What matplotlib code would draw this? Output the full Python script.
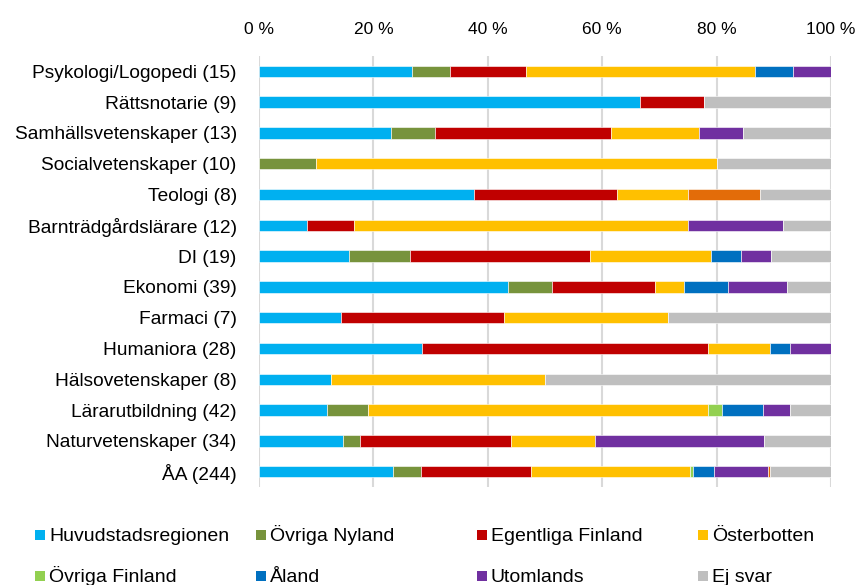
import matplotlib.pyplot as plt
import matplotlib.patches as mpatches
import numpy as np

plt.rcParams['font.family'] = ['Liberation Sans', 'DejaVu Sans']

# kategorier (uppifrån och ned) och antal svar
kategorier = ['Psykologi/Logopedi', 'Rättsnotarie', 'Samhällsvetenskaper',
              'Socialvetenskaper', 'Teologi', 'Barnträdgårdslärare', 'DI',
              'Ekonomi', 'Farmaci', 'Humaniora', 'Hälsovetenskaper',
              'Lärarutbildning', 'Naturvetenskaper', 'ÅA']
antal = [15, 9, 13, 10, 8, 12, 19, 39, 7, 28, 8, 42, 34, 244]

# antal svar per region, samma ordning som kategorier
huvudstad   = [4, 6, 3, 0, 3, 1, 3, 17, 1, 8, 1, 5, 5, 57]
ovr_nyland  = [1, 0, 1, 1, 0, 0, 2, 3, 0, 0, 0, 3, 1, 12]
egentliga   = [2, 1, 4, 0, 2, 1, 6, 7, 2, 14, 0, 0, 9, 47]
osterbotten = [6, 0, 2, 7, 1, 7, 4, 2, 2, 3, 3, 25, 5, 68]
ovr_finland = [0, 0, 0, 0, 0, 0, 0, 0, 0, 0, 0, 1, 0, 1]
aland       = [1, 0, 0, 0, 0, 0, 1, 3, 0, 1, 0, 3, 0, 9]
utomlands   = [1, 0, 1, 0, 0, 2, 1, 4, 0, 2, 0, 2, 10, 23]
ovrigt      = [0, 0, 0, 0, 1, 0, 0, 0, 0, 0, 0, 0, 0, 1]
ej_svar     = [0, 2, 2, 2, 1, 1, 2, 3, 2, 0, 4, 3, 4, 26]

serier = [
    ('Huvudstadsregionen', huvudstad, '#00B0F0'),
    ('Övriga Nyland', ovr_nyland, '#77933C'),
    ('Egentliga Finland', egentliga, '#C00000'),
    ('Österbotten', osterbotten, '#FFC000'),
    ('Övriga Finland', ovr_finland, '#92D050'),
    ('Åland', aland, '#0070C0'),
    ('Utomlands', utomlands, '#7030A0'),
    (None, ovrigt, '#E36C09'),
    ('Ej svar', ej_svar, '#BFBFBF'),
]

etiketter = [f'{k} ({n})' for k, n in zip(kategorier, antal)]
n = np.array(antal, dtype=float)
y = np.arange(len(kategorier))

fig = plt.figure(figsize=(8.65, 5.85), dpi=100)
ax = fig.add_axes([259/865, 1 - 487/585, 572/865, 431/585])

left = np.zeros(len(kategorier))
for namn, vals, farg in serier:
    pct = np.array(vals) / n * 100
    ax.barh(y, pct, left=left, height=0.37, color=farg,
            edgecolor='white', linewidth=0.4, zorder=3)
    left += pct

ax.set_xlim(0, 100)
ax.set_ylim(len(kategorier) - 0.5, -0.5)
ax.set_xticks(np.arange(0, 101, 20))
ax.set_xticklabels([f'{v} %' for v in range(0, 101, 20)])
ax.xaxis.tick_top()
ax.set_yticks(y)
ax.set_yticklabels(etiketter)
ax.tick_params(axis='x', length=0, pad=14, labelsize=12.5)
ax.tick_params(axis='y', length=0, pad=16, labelsize=13.8)
ax.grid(axis='x', color='#D9D9D9', linewidth=1.5, zorder=0)
for s in ax.spines.values():
    s.set_visible(False)

# förklaring nedtill, 4 kolumner
i = 0
for namn, vals, farg in serier:
    if namn is None:
        continue
    kol, rad = i % 4, i // 4
    x0 = 35 + kol * 221
    yc = 535 + rad * 41
    fig.patches.append(mpatches.Rectangle(
        (x0 / 865, 1 - (yc + 5) / 585), 10 / 865, 10 / 585,
        facecolor=farg, transform=fig.transFigure, figure=fig))
    fig.text((x0 + 14) / 865, 1 - (yc + 6) / 585, namn, fontsize=14,
             va='baseline', ha='left')
    i += 1

fig.savefig('out.png', dpi=100)
